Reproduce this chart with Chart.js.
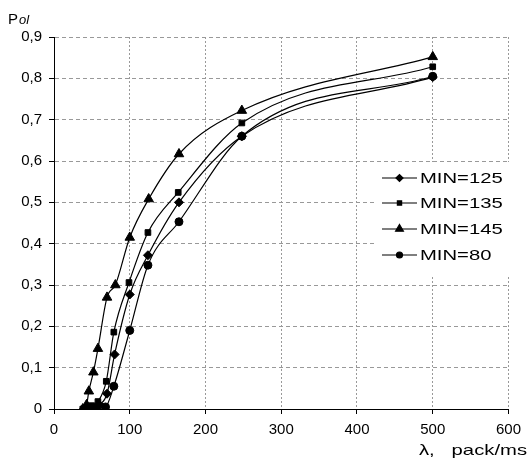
<!DOCTYPE html>
<html>
<head>
<meta charset="utf-8">
<script src="https://cdn.jsdelivr.net/npm/chart.js@4/dist/chart.umd.min.js"></script>
<style>
	html, body { margin: 0; padding: 0; background: #fff; }
	#wrap { width: 528px; height: 460px; }
</style>
</head>
<body>
<div id="wrap"><canvas id="chart"></canvas></div>
<script>
// values
const series_names = ['MIN=125', 'MIN=135', 'MIN=145', 'MIN=80'];
const point_styles = ['rectRot', 'rect', 'triangle', 'circle'];

const x_min125 = [40, 50, 60, 70, 80, 100, 124, 165, 248, 500];
const y_min125 = [0, 0.002, 0.01, 0.037, 0.132, 0.277, 0.372, 0.50, 0.66, 0.803];

const x_min135 = [38, 45, 50, 58, 69, 79, 99, 124, 164, 248, 500];
const y_min135 = [0, 0.003, 0.008, 0.018, 0.067, 0.186, 0.306, 0.427, 0.524, 0.692, 0.828];

const x_min145 = [38, 43, 46, 52, 58, 70, 81, 100, 125, 165, 248, 500];
const y_min145 = [0, 0.01, 0.043, 0.089, 0.146, 0.27, 0.30, 0.415, 0.508, 0.617, 0.722, 0.852];

const x_min80 = [45, 55, 68, 79, 100, 124, 165, 248, 500];
const y_min80 = [0, 0.001, 0.005, 0.055, 0.19, 0.348, 0.453, 0.66, 0.805];

const x_ticks = [0, 100, 200, 300, 400, 500, 600];
const y_ticks = [0, 0.1, 0.2, 0.3, 0.4, 0.5, 0.6, 0.7, 0.8, 0.9];

const xs = [x_min125, x_min135, x_min145, x_min80];
const ys = [y_min125, y_min135, y_min145, y_min80];
const radii = [4.5, 4, 5.5, 4];

const font_name = '"Liberation Sans", Arial, sans-serif';
const stretch = 1.35; // the source text is drawn wider than normal

const datasets = series_names.map((name, i) => ({
	label: name,
	data: xs[i].map((x, j) => ({ x: x, y: ys[i][j] })),
	showLine: true,
	borderColor: '#000',
	backgroundColor: '#000',
	borderWidth: 1.2,
	pointStyle: point_styles[i],
	pointRadius: radii[i],
	pointBorderWidth: 1,
	cubicInterpolationMode: 'monotone',
}));

function wideText(ctx, text, x, y, align) {
	ctx.save();
	ctx.translate(x, y);
	ctx.scale(stretch, 1);
	ctx.textAlign = align;
	ctx.fillText(text, 0, 0);
	ctx.restore();
}

// legend box inside the plot, covers the grid
const inner_legend = {
	id: 'inner_legend',
	beforeDatasetsDraw(chart) {
		const ctx = chart.ctx;
		ctx.save();
		ctx.fillStyle = '#fff';
		ctx.fillRect(375, 162, 137, 113);
		const rows = [178, 203, 229, 255];
		series_names.forEach((name, i) => {
			const y = rows[i];
			ctx.strokeStyle = '#000';
			ctx.lineWidth = 1.2;
			ctx.setLineDash([]);
			ctx.beginPath();
			ctx.moveTo(382, y);
			ctx.lineTo(417, y);
			ctx.stroke();
			ctx.fillStyle = '#000';
			Chart.helpers.drawPoint(ctx, {
				pointStyle: point_styles[i],
				radius: radii[i] - 1,
				rotation: 0,
				borderWidth: 1,
			}, 399.5, y);
			ctx.fillStyle = '#000';
			ctx.font = '15px ' + font_name;
			ctx.textBaseline = 'middle';
			wideText(ctx, name, 420, y + 1, 'left');
		});
		ctx.restore();
	},
	afterDraw(chart) {
		const ctx = chart.ctx;
		ctx.save();
		ctx.fillStyle = '#000';
		ctx.textBaseline = 'alphabetic';
		ctx.textAlign = 'left';
		ctx.font = '15px ' + font_name;
		ctx.fillText('P', 8, 24);
		ctx.font = 'italic 13px ' + font_name;
		ctx.fillText('ol', 19, 24);
		ctx.font = '15px ' + font_name;
		wideText(ctx, '\u03bb,   pack/ms', 527, 455, 'right');
		ctx.restore();
	}
};

const comma = v => (v === 0 ? '0' : v.toFixed(1).replace('.', ','));

new Chart(document.getElementById('chart'), {
	type: 'scatter',
	data: { datasets: datasets },
	plugins: [inner_legend],
	options: {
		responsive: true,
		maintainAspectRatio: false,
		animation: false,
		layout: { padding: { top: 37, right: 13.5, left: 0, bottom: 0 } },
		plugins: {
			legend: { display: false },
			tooltip: { enabled: false },
		},
		scales: {
			x: {
				type: 'linear',
				min: 0,
				max: 600,
				afterFit: s => { s.height = 51; },
				afterBuildTicks: s => { s.ticks = x_ticks.map(v => ({ value: v })); },
				ticks: {
					color: '#000',
					padding: 7,
					font: { family: font_name, size: 15 },
				},
				grid: {
					color: '#999',
					tickLength: 5,
					tickColor: '#000',
					tickBorderDash: [],
				},
				border: { color: '#000', width: 1, dash: [2, 2] },
			},
			y: {
				min: 0,
				max: 0.9,
				afterFit: s => { s.width = 54; },
				afterBuildTicks: s => { s.ticks = y_ticks.map(v => ({ value: v })); },
				ticks: {
					color: '#000',
					padding: 7,
					callback: comma,
					font: { family: font_name, size: 15 },
				},
				grid: {
					color: '#999',
					tickLength: 5,
					tickColor: '#000',
					tickBorderDash: [],
				},
				border: { color: '#000', width: 1, dash: [4, 3] },
			},
		},
	},
});
</script>
</body>
</html>
